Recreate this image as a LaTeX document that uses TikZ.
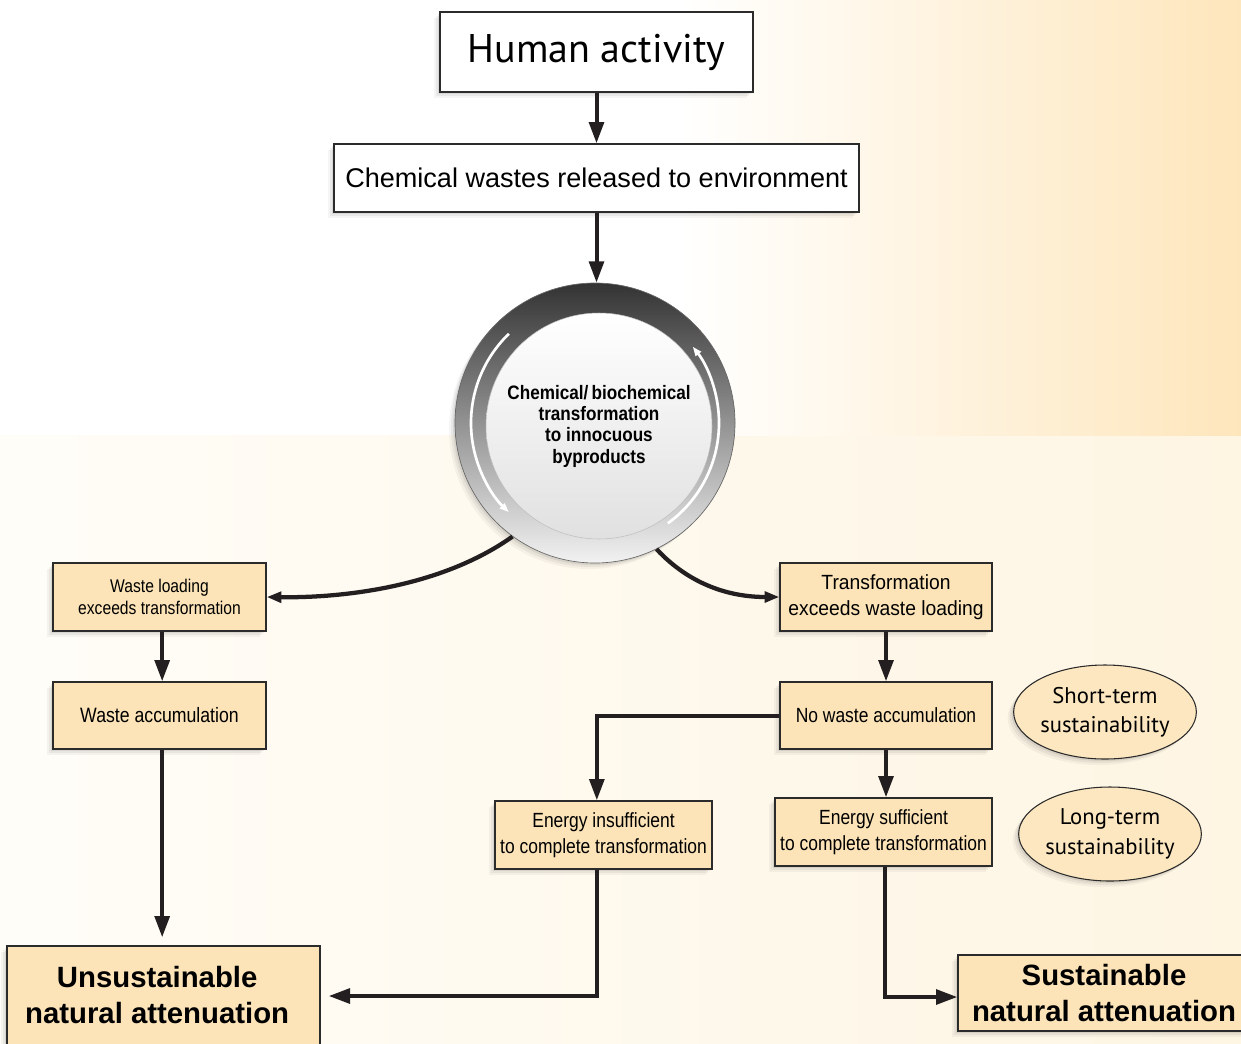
\documentclass[tikz,border=0pt]{standalone}
\usepackage{fontspec}
\setmainfont{Liberation Sans}
\newfontfamily\narrowfont[FakeStretch=0.85]{Liberation Sans}
\newfontfamily\medfont[FakeStretch=0.94]{Liberation Sans}
\newfontfamily\circfont[FakeStretch=0.88]{Liberation Sans}
\newfontfamily\myriadfont{PT Sans}
\usetikzlibrary{arrows.meta,shapes.geometric,shadows}

\definecolor{boxorange}{HTML}{FCE4B8}
\definecolor{ellorange}{HTML}{FCE7C0}
\definecolor{linecol}{HTML}{231F20}
\definecolor{bordercol}{HTML}{2B2B2B}
\definecolor{bgtop}{HTML}{FEE6BC}
\definecolor{bglow}{HTML}{FEF5E3}
\definecolor{bgleft}{HTML}{FFFDF8}

\tikzset{
  softshadow/.style={
    general shadow={fill=black,opacity=.07,shadow xshift=-1.5pt,shadow yshift=-1.5pt},
    general shadow={fill=black,opacity=.05,shadow xshift=-3pt,shadow yshift=-3pt},
    general shadow={fill=black,opacity=.04,shadow xshift=-4.5pt,shadow yshift=-4.5pt}},
  basebox/.style={rectangle, draw=bordercol, line width=1pt, inner sep=0pt, align=center, softshadow},
  wbox/.style={basebox, fill=white},
  obox/.style={basebox, fill=boxorange},
  ellbox/.style={ellipse, draw=bordercol, line width=0.8pt, fill=ellorange, inner sep=0pt, align=center, softshadow,
    minimum width=178*0.75pt, minimum height=94*0.75pt, font=\myriadfont\fontsize{17}{22}\selectfont},
  conn/.style={draw=linecol, line width=3pt, -{Triangle[length=16pt,width=11pt]}},
  curveconn/.style={draw=linecol, line width=3.2pt, -{Triangle[length=11pt,width=8pt]}},
  ringarrow/.style={draw=white, line width=2pt, -{Triangle[length=7pt,width=5pt]}},
  narrowtxt/.style={font=\narrowfont\fontsize{15.4}{19.5}\selectfont},
  boldtxt/.style={font=\bfseries\fontsize{22}{27}\selectfont}
}

\begin{document}
\begin{tikzpicture}[x=0.75pt, y=-0.75pt]
\useasboundingbox (0,0) rectangle (1241,1043);
\clip (0,0) rectangle (1241,1043);

% background
\fill[left color=bgleft, right color=bglow] (0,0) rectangle (1241,1043);
\fill[white] (0,0) rectangle (680,435);
\fill[left color=white, right color=bgtop] (680,0) rectangle (1241,435);

% top boxes
\node[wbox, minimum width=313*0.75pt, minimum height=80*0.75pt,
      font=\myriadfont\fontsize{30}{34}\selectfont] (human) at (596.5,52) {Human activity};
\node[wbox, minimum width=525*0.75pt, minimum height=68*0.75pt,
      font=\fontsize{20.3}{24}\selectfont] (chem) at (596.5,178) {Chemical wastes released to environment};

% cycle
\node[circle, minimum size=280*0.75pt, draw=black!60, line width=0.5pt,
      top color=black!80, middle color=black!42, bottom color=black!5, softshadow] (cyc) at (595,423) {};
\node[circle, minimum size=226*0.75pt, inner sep=0pt, draw=black!25, line width=0.4pt,
      top color=white, middle color=white, bottom color=black!12, align=center,
      font=\circfont\bfseries\fontsize{14.6}{16}\selectfont] (cyctxt) at (599,426)
      {Chemical/\,biochemical\\transformation\\to innocuous\\byproducts};
\begin{scope}[shift={(cyc.center)}, x=0.75pt, y=0.75pt]
  \draw[ringarrow] (134:124) arc[start angle=134, end angle=226, radius=124];
  \draw[ringarrow] (-54:124) arc[start angle=-54, end angle=38, radius=124];
\end{scope}

% left branch
\node[obox, minimum width=213*0.75pt, minimum height=68*0.75pt,
      font=\narrowfont\fontsize{13.8}{17}\selectfont] (wl) at (159.5,597) {Waste loading\\exceeds transformation};
\node[obox, minimum width=213*0.75pt, minimum height=67*0.75pt,
      font=\narrowfont\fontsize{15.6}{19}\selectfont] (wa) at (159.5,715.5) {Waste accumulation};
\node[obox, minimum width=313*0.75pt, minimum height=104*0.75pt, boldtxt] (unsus) at (163.5,998)
      {\kern-9.5pt\begin{tabular}{@{}c@{}}Unsustainable\\natural attenuation\end{tabular}};

% right branch
\node[obox, minimum width=212*0.75pt, minimum height=68*0.75pt,
      font=\medfont\fontsize{15.4}{19.5}\selectfont] (te) at (886,597) {Transformation\\exceeds waste loading};
\node[obox, minimum width=212*0.75pt, minimum height=67*0.75pt, narrowtxt] (nwa) at (886,715.5) {No waste accumulation};
\node[obox, minimum width=217*0.75pt, minimum height=68*0.75pt, narrowtxt] (ei) at (603.5,835)
      {Energy insufficient\\to complete transformation};
\node[obox, minimum width=217*0.75pt, minimum height=68*0.75pt, narrowtxt] (es) at (883.5,832)
      {Energy sufficient\\to complete transformation};
\node[obox, minimum width=292*0.75pt, minimum height=76*0.75pt, boldtxt] (sus) at (1104,993)
      {Sustainable\\natural attenuation};

% ellipses
\node[ellbox] (st) at (1105,712) {Short-term\\sustainability};
\node[ellbox] (lt) at (1110,834) {Long-term\\sustainability};

% connectors
\draw[conn] (human.south) -- (chem.north);
\draw[conn] (chem.south) -- (chem.south |- cyc.north);
\draw[curveconn] (cyc.234) .. controls (440,588) and (340,598) .. (wl.east);
\draw[curveconn] (cyc.296) .. controls (690,585) and (730,597) .. (te.west);
\draw[conn] ([xshift=2pt]wl.south) -- ([xshift=2pt]wa.north);
\draw[conn, shorten >=6pt] ([xshift=2pt]wa.south) -- ([xshift=2pt]wa.south |- unsus.north);
\draw[conn] (te.south) -- (nwa.north);
\draw[conn] (nwa.south) -- (nwa.south |- es.north);
\draw[conn] (nwa.west) -| ([xshift=-5pt]ei.north);
\draw[conn, shorten >=6pt] ([xshift=-5pt]ei.south) |- ([yshift=1.5pt]unsus.east);
\draw[conn] ([xshift=1pt]es.south) |- ([yshift=-3pt]sus.west);
\end{tikzpicture}
\end{document}
